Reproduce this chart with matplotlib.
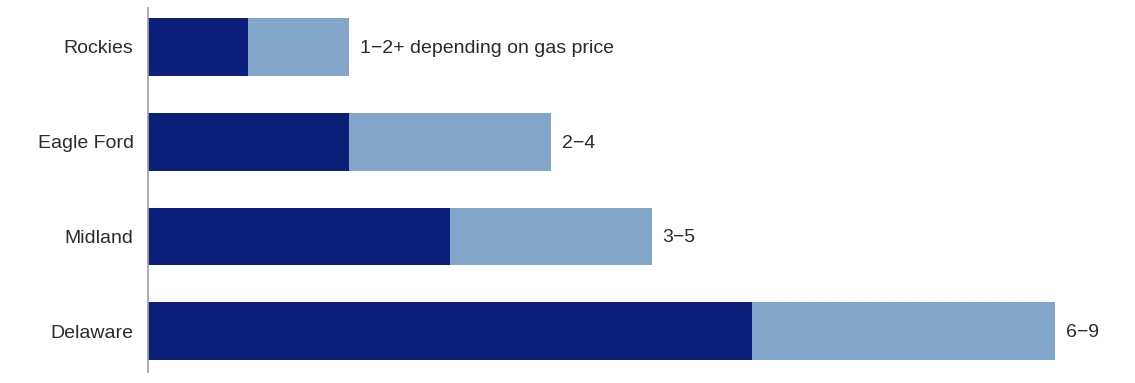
import matplotlib
matplotlib.use("Agg")
import matplotlib.pyplot as plt

categories = ["Rockies", "Eagle Ford", "Midland", "Delaware"]
low_values = [1, 2, 3, 6]
high_values = [2, 4, 5, 9]
range_labels = ["1\u22122+ depending on gas price", "2\u22124", "3\u22125", "6\u22129"]

dark = "#0a1f78"
light = "#82a6ca"
text_color = "#2b2b2b"

plt.rcParams['font.family'] = ['Liberation Sans', 'DejaVu Sans']

fig = plt.figure(figsize=(11.35, 3.83), dpi=100)
W, H = 1135, 383
ax = fig.add_axes([147.5 / W, 0, 1 - 147.5 / W, 1])

n = len(categories)
ypos = [n - 1 - i for i in range(n)]
extra = [h - l for h, l in zip(high_values, low_values)]
ax.barh(ypos, low_values, height=0.61, color=dark, linewidth=0)
ax.barh(ypos, extra, left=low_values, height=0.61, color=light, linewidth=0)

for y, h, lab in zip(ypos, high_values, range_labels):
    ax.annotate(lab, (h, y), xytext=(11, -1.5), textcoords="offset pixels",
                va="center", ha="left", fontsize=14, color=text_color)

ax.set_yticks(ypos)
ax.set_yticklabels(categories, fontsize=14, color=text_color)
ax.tick_params(axis="y", length=0, pad=10)
ax.set_xticks([])
ax.set_xlim(0, (W - 147.5) / 100.8)
ax.set_ylim(-0.43 - (11 / 94.7), 3.41 + (8 / 94.7))
for s in ["top", "right", "bottom"]:
    ax.spines[s].set_visible(False)
ax.spines["left"].set_color("#a0a0a0")
ax.spines["left"].set_linewidth(1.2)
ax.spines["left"].set_bounds(-0.43, 3.41)

fig.savefig("out.png", dpi=100)
